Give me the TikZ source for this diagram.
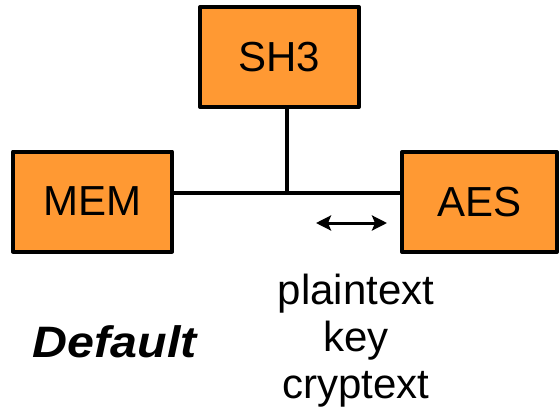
\documentclass[tikz,border=0pt]{standalone}
\usepackage{fontspec}
\usetikzlibrary{arrows.meta}
\setmainfont{Liberation Sans}
\definecolor{boxorange}{RGB}{255,153,51}
\begin{document}
\begin{tikzpicture}[x=1pt,y=-1pt,line join=round,>={Stealth[length=15pt,width=15pt,inset=3pt]},
		font=\fontsize{42}{50}\selectfont,
		blk/.style={draw,fill=boxorange,line width=4pt,minimum width=159pt,minimum height=100pt,inner sep=0pt},
		wire/.style={line width=3.5pt}]
	\useasboundingbox (0,0) rectangle (559,417);
	\node[blk] (sh3) at (279.5,57) {SH3};
	\node[blk] (mem) at (92.5,201.5) {MEM};
	\node[blk,minimum width=155pt] (aes) at (479.5,202) {AES};
	\coordinate (jn) at (287,193);
	\draw[wire] (mem.east |- jn) -- (aes.west |- jn);
	\draw[wire] (sh3.south -| jn) -- (jn);
	
	\coordinate (al) at (316,223);
	\coordinate (ar) at (387,223);
	\draw[<->,line width=3pt] (al) -- (ar);
	
	\node[anchor=base] (pt) at (356,304) {plaintext};
	\node[anchor=base] (ky) at (356,351) {key};
	\node[anchor=base] (ct) at (356,398) {cryptext};
	\node[anchor=base,xscale=1.1,font=\fontsize{44}{50}\selectfont\bfseries\itshape] (df) at (115,357) {Default};
\end{tikzpicture}
\end{document}
